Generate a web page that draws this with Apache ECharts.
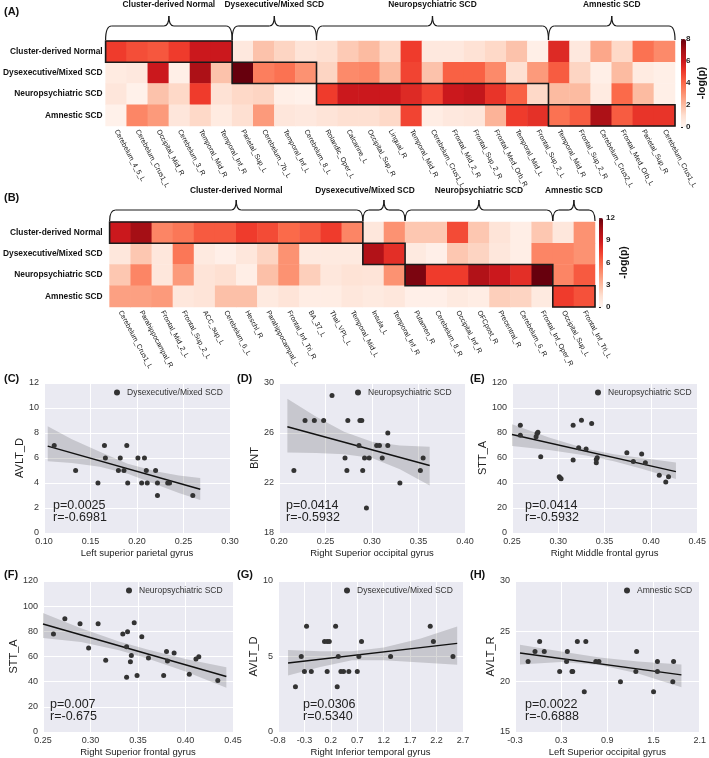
<!DOCTYPE html>
<html>
<head>
<meta charset="utf-8">
<title>SCD subtype regional maps</title>
<script src="https://cdn.jsdelivr.net/npm/echarts@6.0.0/dist/echarts.min.js"></script>
<style>
  html, body { margin: 0; padding: 0; background: #fff; }
  #chart { width: 709px; height: 758px; }
</style>
</head>
<body>
<div id="chart"></div>
<script>
const FONT = '"Liberation Sans", Arial, sans-serif'
const REDS = ['#fff5f0', '#fee0d2', '#fcbba1', '#fc9272', '#fb6a4a', '#ef3b2c', '#cb181d', '#a50f15', '#67000d']

const ROWS = ['Cluster-derived Normal', 'Dysexecutive/Mixed SCD', 'Neuropsychiatric SCD', 'Amnestic SCD']

// (A) regions, grouped by subtype, and -log(p) per subtype row
const A_REGIONS = [
  'Cerebelum_4_5_L', 'Cerebelum_Crus1_L', 'Occipital_Mid_R', 'Cerebelum_3_R', 'Temporal_Mid_R', 'Temporal_Inf_R',
  'Parietal_Sup_L', 'Cerebelum_7b_L', 'Temporal_Inf_L', 'Cerebelum_8_L',
  'Rolandic_Oper_L', 'Calcarine_L', 'Occipital_Sup_R', 'Lingual_R', 'Temporal_Mid_R', 'Cerebelum_Crus1_L',
  'Frontal_Mid_2_R', 'Frontal_Sup_2_R', 'Frontal_Med_Orb_R', 'Temporal_Mid_L', 'Frontal_Sup_2_L',
  'Temporal_Mid_R', 'Frontal_Sup_2_R', 'Cerebelum_Crus2_L', 'Frontal_Med_Orb_L', 'Parietal_Sup_R', 'Cerebelum_Crus1_L',
]
const A_GROUP_SIZES = [6, 4, 11, 6]
const A_NORMAL = [5.0, 4.6, 4.4, 5.0, 6.0, 6.0, 0.6, 1.8, 1.3, 0.8, 1.0, 1.6, 2.0, 1.2, 5.0, 0.6, 0.6, 0.9, 1.2, 1.8, 0.3, 5.5, 0.6, 2.5, 1.2, 3.8, 3.2]
const A_DYSEXEC = [0.5, 0.6, 6.0, 0.3, 6.8, 1.8, 8.0, 3.5, 3.8, 3.0, 1.3, 3.2, 3.3, 2.0, 4.8, 1.8, 4.2, 4.2, 3.2, 1.0, 2.8, 4.3, 1.3, 0.3, 2.0, 0.5, 0.3]
const A_NEURO = [0.7, 0.2, 1.8, 1.2, 5.0, 0.9, 1.2, 1.3, 0.3, 0.2, 5.0, 6.0, 6.0, 6.0, 5.5, 4.8, 6.0, 6.2, 5.2, 4.2, 1.2, 2.0, 2.0, 0.5, 4.0, 2.0, 0.3]
const A_AMNESTIC = [0.2, 3.3, 2.8, 0.7, 1.2, 0.5, 1.0, 2.8, 0.7, 0.6, 0.8, 1.0, 1.0, 1.2, 4.8, 0.4, 0.6, 0.7, 2.2, 5.0, 5.3, 3.8, 4.3, 6.8, 4.3, 5.2, 5.2]
const A_TICKS = [0, 2, 4, 6, 8]

// (B)
const B_REGIONS = [
  'Cerebelum_Crus1_L', 'Parahippocampal_R', 'Frontal_Mid_2_L', 'Frontal_Sup_2_L', 'ACC_sup_L', 'Cerebelum_6_L',
  'Heschl_R', 'Parahippocampal_L', 'Frontal_Inf_Tri_R', 'BA_37_L', 'Thal_VPL_L', 'Temporal_Mid_L',
  'Insula_L', 'Temporal_Inf_R',
  'Putamen_R', 'Cerebelum_8_R', 'Occipital_Inf_R', 'OFCpost_R', 'Precentral_R', 'Cerebelum_6_R', 'Frontal_Inf_Oper_R',
  'Occipital_Sup_L', 'Frontal_Inf_Tri_L',
]
const B_GROUP_SIZES = [12, 2, 7, 2]
const B_NORMAL = [9.0, 10.5, 5.0, 5.5, 6.5, 6.5, 7.5, 7.0, 6.0, 6.5, 7.5, 5.0, 1.0, 4.5, 2.5, 2.5, 7.0, 2.5, 1.2, 0.5, 2.5, 1.0, 4.5]
const B_DYSEXEC = [1.0, 2.5, 1.0, 5.5, 0.8, 0.4, 1.0, 2.0, 4.5, 0.8, 0.8, 0.8, 10.0, 8.0, 0.8, 0.4, 2.5, 2.0, 1.0, 0.5, 5.0, 5.0, 4.5]
const B_NEURO = [2.5, 5.0, 1.0, 4.2, 1.2, 1.5, 0.5, 2.8, 4.5, 2.2, 1.0, 1.3, 1.2, 4.5, 11.5, 7.5, 7.5, 10.0, 9.0, 8.0, 12.0, 5.0, 6.5]
const B_AMNESTIC = [4.0, 4.0, 4.2, 1.0, 1.2, 2.8, 2.8, 0.8, 1.2, 0.6, 0.6, 1.0, 0.8, 1.0, 0.4, 0.4, 0.8, 0.6, 2.2, 2.0, 0.8, 7.5, 6.8]
const B_TICKS = [0, 3, 6, 9, 12]

// (C)-(H) scatter points, fitted line ends, CI band edges, ticks
const C_POINTS = [[0.111, 7], [0.134, 5], [0.158, 4], [0.165, 7], [0.166, 6], [0.180, 5], [0.182, 6], [0.186, 5], [0.189, 7], [0.190, 4], [0.201, 6], [0.205, 4], [0.208, 6], [0.210, 5], [0.211, 4], [0.220, 5], [0.222, 4], [0.222, 3], [0.233, 4], [0.235, 4], [0.260, 3]]
const C_FIT = [[0.104, 6.95], [0.268, 3.5]]
const C_UPPER = [[0.104, 8.55], [0.13, 7.5], [0.16, 6.5], [0.19, 5.55], [0.22, 4.95], [0.245, 4.6], [0.268, 4.4]]
const C_LOWER = [[0.104, 5.75], [0.13, 5.6], [0.16, 5.3], [0.19, 4.75], [0.22, 3.9], [0.245, 3.2], [0.268, 2.65]]
const C_XTICKS = [0.10, 0.15, 0.20, 0.25, 0.30]
const C_YTICKS = [0, 2, 4, 6, 8, 10, 12]

const D_POINTS = [[0.216, 23], [0.228, 27], [0.238, 27], [0.248, 27], [0.257, 29], [0.271, 24], [0.273, 23], [0.274, 27], [0.286, 25], [0.287, 27], [0.289, 27], [0.290, 23], [0.292, 24], [0.294, 20], [0.297, 24], [0.305, 25], [0.308, 25], [0.311, 24], [0.317, 26], [0.317, 25], [0.330, 22], [0.352, 23], [0.355, 24]]
const D_FIT = [[0.209, 26.5], [0.362, 23.4]]
const D_UPPER = [[0.209, 28.75], [0.24, 27.3], [0.27, 26.1], [0.30, 25.3], [0.33, 25.0], [0.362, 24.9]]
const D_LOWER = [[0.209, 24.45], [0.24, 24.4], [0.27, 24.3], [0.30, 24.0], [0.33, 23.1], [0.362, 21.8]]
const D_XTICKS = [0.20, 0.25, 0.30, 0.35, 0.40]
const D_YTICKS = [18, 22, 26, 30]

const E_POINTS = [[0.259, 86.3], [0.259, 78.3], [0.276, 77], [0.277, 79.6], [0.278, 80.7], [0.281, 61], [0.301, 45.1], [0.302, 44], [0.303, 43.5], [0.316, 86.3], [0.316, 58.4], [0.322, 68.2], [0.325, 90.3], [0.330, 67.2], [0.336, 87.6], [0.341, 58.9], [0.342, 60.3], [0.341, 56.3], [0.374, 64.2], [0.381, 57.3], [0.390, 63.2], [0.394, 56.3], [0.409, 46.2], [0.416, 40.9], [0.419, 45.1]]
const E_FIT = [[0.25, 78.8], [0.427, 49.1]]
const E_UPPER = [[0.25, 87.1], [0.29, 76.5], [0.33, 67.5], [0.36, 63], [0.39, 60], [0.427, 56.5]]
const E_LOWER = [[0.25, 69.6], [0.29, 66.5], [0.33, 62], [0.36, 57.5], [0.39, 51.5], [0.427, 43.3]]
const E_XTICKS = [0.25, 0.30, 0.35, 0.40, 0.45]
const E_YTICKS = [0, 20, 40, 60, 80, 100, 120]

const F_POINTS = [[0.261, 77.8], [0.273, 90], [0.289, 86], [0.298, 66.8], [0.308, 86], [0.316, 57], [0.334, 77.8], [0.339, 79.7], [0.338, 67.8], [0.338, 43.5], [0.342, 55.9], [0.343, 60.7], [0.346, 86.8], [0.349, 44.9], [0.354, 75.7], [0.361, 58.8], [0.380, 63.9], [0.377, 44.9], [0.381, 56.5], [0.388, 62.8], [0.404, 45.9], [0.411, 58], [0.414, 59.9], [0.434, 40.9]]
const F_FIT = [[0.25, 85.8], [0.443, 44.1]]
const F_UPPER = [[0.25, 94.5], [0.29, 82.5], [0.33, 72], [0.36, 65.5], [0.40, 58], [0.443, 51.5]]
const F_LOWER = [[0.25, 74.7], [0.29, 71.5], [0.33, 65], [0.36, 58.5], [0.40, 48], [0.443, 35.1]]
const F_XTICKS = [0.25, 0.30, 0.35, 0.40, 0.45]
const F_YTICKS = [0, 20, 40, 60, 80, 100, 120]

const G_POINTS = [[-0.47, 3], [-0.36, 5], [-0.30, 4], [-0.26, 7], [-0.17, 4], [0.08, 6], [0.13, 4], [0.13, 6], [0.17, 6], [0.29, 7], [0.32, 3], [0.34, 5], [0.39, 4], [0.44, 4], [0.54, 4], [0.70, 4], [0.73, 5], [0.78, 6], [1.33, 5], [2.08, 7], [2.14, 6], [2.51, 5]]
const G_FIT = [[-0.61, 4.57], [2.59, 5.87]]
const G_UPPER = [[-0.61, 5.43], [0, 5.35], [0.6, 5.35], [1.2, 5.6], [1.9, 6.2], [2.59, 6.99]]
const G_LOWER = [[-0.61, 3.74], [0, 4.3], [0.6, 4.75], [1.2, 4.75], [1.9, 4.6], [2.59, 4.46]]
const G_XTICKS = [-0.8, -0.3, 0.2, 0.7, 1.2, 1.7, 2.2, 2.7]
const G_YTICKS = [0, 5, 10]

const H_POINTS = [[-0.13, 22], [-0.04, 23], [0.02, 24], [0.08, 23], [0.28, 21], [0.37, 22], [0.38, 23], [0.44, 21], [0.45, 21], [0.51, 24], [0.60, 19], [0.62, 24], [0.75, 22], [0.79, 22], [1.07, 20], [1.27, 21], [1.28, 23], [1.50, 19], [1.55, 22], [1.55, 21], [1.75, 20], [1.76, 22]]
const H_FIT = [[-0.235, 22.85], [1.862, 20.67]]
const H_UPPER = [[-0.235, 23.67], [0.3, 23.0], [0.8, 22.4], [1.3, 22.0], [1.862, 21.7]]
const H_LOWER = [[-0.235, 21.7], [0.3, 21.95], [0.8, 21.65], [1.3, 20.8], [1.862, 19.45]]
const H_XTICKS = [-0.3, 0.3, 0.9, 1.5, 2.1]
const H_YTICKS = [15, 20, 25, 30]

// panel layout
const PANELS = [
  { tag: '(C)', group: 'Dysexecutive/Mixed SCD', xName: 'Left superior parietal gyrus', yName: 'AVLT_D', stats: 'p=0.0025\nr=-0.6981',
    pts: C_POINTS, fit: C_FIT, up: C_UPPER, lo: C_LOWER, xt: C_XTICKS, yt: C_YTICKS, xd: 2,
    grid: { left: 44, top: 383, width: 186, height: 150 }, legendX: 117, statsX: 9 },
  { tag: '(D)', group: 'Neuropsychiatric SCD', xName: 'Right Superior occipital gyrus', yName: 'BNT', stats: 'p=0.0414\nr=-0.5932',
    pts: D_POINTS, fit: D_FIT, up: D_UPPER, lo: D_LOWER, xt: D_XTICKS, yt: D_YTICKS, xd: 2,
    grid: { left: 279, top: 383, width: 186, height: 150 }, legendX: 358, statsX: 7 },
  { tag: '(E)', group: 'Neuropsychiatric SCD', xName: 'Right Middle frontal gyrus', yName: 'STT_A', stats: 'p=0.0414\nr=-0.5932',
    pts: E_POINTS, fit: E_FIT, up: E_UPPER, lo: E_LOWER, xt: E_XTICKS, yt: E_YTICKS, xd: 2,
    grid: { left: 512, top: 383, width: 189, height: 150 }, legendX: 598, statsX: 13 },
  { tag: '(F)', group: 'Neuropsychiatric SCD', xName: 'Right Superior frontal gyrus', yName: 'STT_A', stats: 'p=0.007\nr=-0.675',
    pts: F_POINTS, fit: F_FIT, up: F_UPPER, lo: F_LOWER, xt: F_XTICKS, yt: F_YTICKS, xd: 2,
    grid: { left: 43, top: 581, width: 190, height: 151 }, legendX: 129, statsX: 7 },
  { tag: '(G)', group: 'Dysexecutive/Mixed SCD', xName: 'Right Inferior temporal gyrus', yName: 'AVLT_D', stats: 'p=0.0306\nr=0.5340',
    pts: G_POINTS, fit: G_FIT, up: G_UPPER, lo: G_LOWER, xt: G_XTICKS, yt: G_YTICKS, xd: 1,
    grid: { left: 278, top: 581, width: 185, height: 151 }, legendX: 347, statsX: 25 },
  { tag: '(H)', group: 'Amnestic SCD', xName: 'Left Superior occipital gyrus', yName: 'AVLT_R', stats: 'p=0.0022\nr=-0.6888',
    pts: H_POINTS, fit: H_FIT, up: H_UPPER, lo: H_LOWER, xt: H_XTICKS, yt: H_YTICKS, xd: 1,
    grid: { left: 515, top: 581, width: 185, height: 151 }, legendX: 627, statsX: 10 },
]

function cells(rows) {
  const out = []
  rows.forEach((vals, r) => vals.forEach((v, c) => out.push([c, r, v])))
  return out
}

const chart = echarts.init(document.getElementById('chart'), null, { renderer: 'canvas' })

const grids = []
const xAxes = []
const yAxes = []
const series = []
const legends = []

function heatmapAxes(regions, g, labelMargin) {
  xAxes.push({
    gridIndex: g, type: 'category', data: regions,
    axisLine: { show: false }, axisTick: { show: false }, splitLine: { show: false },
    axisLabel: { interval: 0, rotate: -62, fontSize: 7, color: '#111', fontFamily: FONT, margin: 4 },
  })
  yAxes.push({
    gridIndex: g, type: 'category', data: ROWS, inverse: true,
    axisLine: { show: false }, axisTick: { show: false }, splitLine: { show: false },
    axisLabel: { fontSize: 8.4, fontWeight: 'bold', color: '#111', fontFamily: FONT, margin: labelMargin },
  })
}

function colorbarAxes(g, ticks) {
  xAxes.push({ gridIndex: g, type: 'value', show: false, min: 0, max: 1 })
  yAxes.push({
    gridIndex: g, type: 'value', position: 'right', min: ticks[0], max: ticks[ticks.length - 1],
    axisLine: { show: false }, splitLine: { show: false },
    axisTick: { show: true, length: 2, lineStyle: { color: '#222' }, customValues: ticks },
    axisLabel: { customValues: ticks, fontSize: 8, fontWeight: 'bold', color: '#222', fontFamily: FONT, margin: 3 },
    name: '-log(p)', nameLocation: 'middle', nameRotate: 90, nameGap: 14,
    nameTextStyle: { fontSize: 10.5, fontWeight: 'bold', color: '#111', fontFamily: FONT },
  })
}

// (A)
grids.push({ left: 100, top: 41, width: 575, height: 85 })
heatmapAxes(A_REGIONS, 0, 3)
grids.push({ left: 681, top: 39, width: 5, height: 88 })
colorbarAxes(1, A_TICKS)
// (B)
grids.push({ left: 105, top: 222, width: 490, height: 85 })
heatmapAxes(B_REGIONS, 2, 7)
grids.push({ left: 599, top: 218, width: 4, height: 89 })
colorbarAxes(3, B_TICKS)

series.push({
  type: 'heatmap', xAxisIndex: 0, yAxisIndex: 0, silent: true,
  data: cells([A_NORMAL, A_DYSEXEC, A_NEURO, A_AMNESTIC]),
})
series.push({
  type: 'heatmap', xAxisIndex: 2, yAxisIndex: 2, silent: true,
  data: cells([B_NORMAL, B_DYSEXEC, B_NEURO, B_AMNESTIC]),
})

PANELS.forEach((p, k) => {
  const g = 4 + k
  grids.push(Object.assign({ show: true, backgroundColor: '#eaeaf2', borderWidth: 0 }, p.grid))
  const axisCommon = {
    gridIndex: g, type: 'value',
    axisLine: { show: false },
    splitLine: { show: true, lineStyle: { color: '#ffffff', width: 1 } },
    nameLocation: 'middle',
  }
  xAxes.push(Object.assign({}, axisCommon, {
    min: p.xt[0], max: p.xt[p.xt.length - 1],
    axisTick: { show: false, customValues: p.xt },
    axisLabel: { customValues: p.xt, formatter: v => v.toFixed(p.xd), fontSize: 9, color: '#333', fontFamily: FONT, margin: 4 },
    name: p.xName, nameGap: 15,
    nameTextStyle: { fontSize: 9.5, color: '#222', fontFamily: FONT },
  }))
  yAxes.push(Object.assign({}, axisCommon, {
    min: p.yt[0], max: p.yt[p.yt.length - 1],
    axisTick: { show: false, customValues: p.yt },
    axisLabel: { customValues: p.yt, fontSize: 9, color: '#333', fontFamily: FONT, margin: 5 },
    name: p.yName, nameGap: 19, nameRotate: 90,
    nameTextStyle: { fontSize: 11, color: '#222', fontFamily: FONT },
  }))
  const up = p.up, lo = p.lo
  series.push({
    type: 'custom', xAxisIndex: g, yAxisIndex: g, silent: true, z: 1,
    data: up,
    renderItem: (params, api) => {
      if (params.dataIndex !== 0) return null
      const pts = up.map(d => api.coord(d)).concat(lo.slice().reverse().map(d => api.coord(d)))
      return { type: 'polygon', shape: { points: pts }, style: { fill: 'rgba(0,0,0,0.15)' } }
    },
  })
  series.push({
    type: 'line', xAxisIndex: g, yAxisIndex: g, silent: true, z: 3,
    data: p.fit, symbol: 'none', lineStyle: { color: '#111', width: 1.4 },
  })
  series.push({
    type: 'scatter', name: p.group, xAxisIndex: g, yAxisIndex: g, z: 4,
    data: p.pts, symbolSize: 5, itemStyle: { color: '#333', opacity: 1 },
  })
  legends.push({
    data: [{ name: p.group, icon: 'circle' }],
    left: p.legendX - 3, top: p.grid.top + 5, padding: 0, itemWidth: 6, itemHeight: 6,
    selectedMode: false,
    textStyle: { fontSize: 8.5, color: '#333', fontFamily: FONT, padding: [0, 0, 0, 2] },
  })
})

chart.setOption({
  animation: false,
  backgroundColor: '#ffffff',
  textStyle: { fontFamily: FONT },
  grid: grids,
  xAxis: xAxes,
  yAxis: yAxes,
  legend: legends,
  visualMap: [
    { type: 'continuous', seriesIndex: 0, min: 0, max: 8, left: 681, top: 39, itemWidth: 5, itemHeight: 88,
      padding: 0, calculable: false, hoverLink: false, inRange: { color: REDS } },
    { type: 'continuous', seriesIndex: 1, min: 0, max: 12, left: 599, top: 218, itemWidth: 4, itemHeight: 89,
      padding: 0, calculable: false, hoverLink: false, inRange: { color: REDS } },
  ],
  series,
})

// subtype boxes, curly braces and group titles over a heatmap
const STROKE = { fill: 'none', stroke: '#1a1a1a', lineWidth: 1.2 }
const curve = (x1, y1, cx, cy, x2, y2) => ({ type: 'bezierCurve', z: 100, style: STROKE,
  shape: { x1, y1, cpx1: cx, cpy1: cy, x2, y2 } })
const seg = (x1, y1, x2, y2) => ({ type: 'line', z: 100, style: STROKE, shape: { x1, y1, x2, y2 } })

function heatmapDecor(g, sizes, opts) {
  const finder = { gridIndex: g }
  const a = chart.convertToPixel(finder, [0, 0])
  const b = chart.convertToPixel(finder, [1, 1])
  const cw = b[0] - a[0], ch = b[1] - a[1]
  const top = a[1] - ch / 2
  const els = []
  let start = 0
  sizes.forEach((n, r) => {
    const x0 = chart.convertToPixel(finder, [start, r])[0] - cw / 2
    const x1 = x0 + n * cw
    const xc = (x0 + x1) / 2
    els.push({ type: 'rect', z: 100, shape: { x: x0, y: top + r * ch, width: n * cw, height: ch },
      style: { fill: 'none', stroke: '#1a1a1a', lineWidth: 1.6 } })
    const yb = top - 1, ym = top - opts.mid, yt = top - opts.tip
    els.push(
      curve(x0, yb, x0, ym, x0 + 6, ym),
      seg(x0 + 6, ym, xc - 5, ym),
      curve(xc - 5, ym, xc, ym, xc, yt),
      curve(xc, yt, xc, ym, xc + 5, ym),
      seg(xc + 5, ym, x1 - 6, ym),
      curve(x1 - 6, ym, x1, ym, x1, yb),
    )
    els.push({ type: 'text', z: 100, x: xc + opts.shift[r], y: top - opts.label,
      style: { text: ROWS[r], fontSize: 8.4, fontWeight: 'bold', fontFamily: FONT, fill: '#111', align: 'center', verticalAlign: 'middle' } })
    start += n
  })
  return els
}

const elements = []
  .concat(heatmapDecor(0, A_GROUP_SIZES, { mid: 15, tip: 25, label: 36, shift: [0, 0, 0, 0] }))
  .concat(heatmapDecor(2, B_GROUP_SIZES, { mid: 12, tip: 22, label: 31, shift: [0, -19, 0, 0] }))

const tag = (text, x, y) => ({ type: 'text', x, y, z: 100,
  style: { text, fontSize: 11, fontWeight: 'bold', fontFamily: FONT, fill: '#111' } })
elements.push(tag('(A)', 4, 6), tag('(B)', 4, 192))
const tagPos = [[4, 373], [237, 373], [470, 373], [4, 569], [237, 569], [470, 569]]
PANELS.forEach((p, k) => {
  elements.push(tag(p.tag, tagPos[k][0], tagPos[k][1]))
  elements.push({ type: 'text', z: 100, x: p.grid.left + p.statsX, y: p.grid.top + p.grid.height - 33,
    style: { text: p.stats, fontSize: 12.5, lineHeight: 12, fontFamily: FONT, fill: '#222' } })
})

chart.setOption({ graphic: { elements } })
</script>
</body>
</html>
